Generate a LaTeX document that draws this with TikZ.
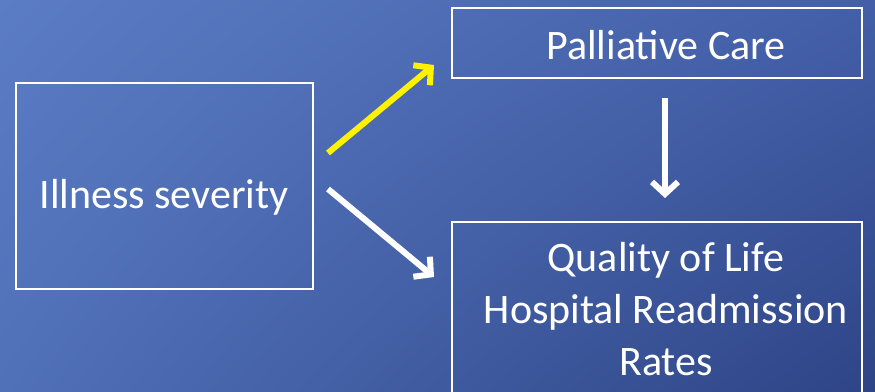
\documentclass[tikz,border=0pt]{standalone}
\usepackage{fontspec}
\setmainfont{Carlito}
\usetikzlibrary{arrows.meta,shadings}
\definecolor{bgTL}{HTML}{5B7DC5}
\definecolor{bgTR}{HTML}{435FA8}
\definecolor{bgBL}{HTML}{5070B8}
\definecolor{bgBR}{HTML}{2E4486}
\begin{document}
\begin{tikzpicture}[x=1pt,y=-1pt,
  frame/.style={draw=white,line width=1.5pt,inner sep=0pt},
  lbl/.style={text=white,font=\fontsize{42}{52}\selectfont,align=center,inner sep=0pt},
  arr/.style={line width=6pt,-{Straight Barb[length=12pt,width=26pt,line width=6pt]}}]
\useasboundingbox (0,0) rectangle (875,391);
\shade[upper left=bgTL,upper right=bgTR,lower left=bgBL,lower right=bgBR] (0,0) rectangle (875,391);
\begin{scope}
\clip (0,0) rectangle (875,391);
\node[frame,minimum width=297pt,minimum height=206pt] (illbox) at (164.5,186) {};
\node[lbl] (ill) at (164,197) {Illness severity};
\node[frame,minimum width=410pt,minimum height=70pt] (palbox) at (657,43) {};
\node[lbl] (pal) at (666,45) {Palliative Care};
\node[frame,minimum width=410pt,minimum height=178pt] (qolbox) at (657,311) {};
\node[lbl] (qol) at (666,309) {Quality of Life\\Hospital Readmission\\Rates};
\coordinate (ya) at (328,153);
\coordinate (yb) at (434,65);
\coordinate (wa) at (328,189);
\coordinate (wb) at (434,277);
\coordinate (da) at (665,98);
\coordinate (db) at (665,198);
\draw[arr,yellow] (ya) -- (yb);
\draw[arr,white] (wa) -- (wb);
\draw[arr,white] (da) -- (db);
\end{scope}
\end{tikzpicture}
\end{document}
